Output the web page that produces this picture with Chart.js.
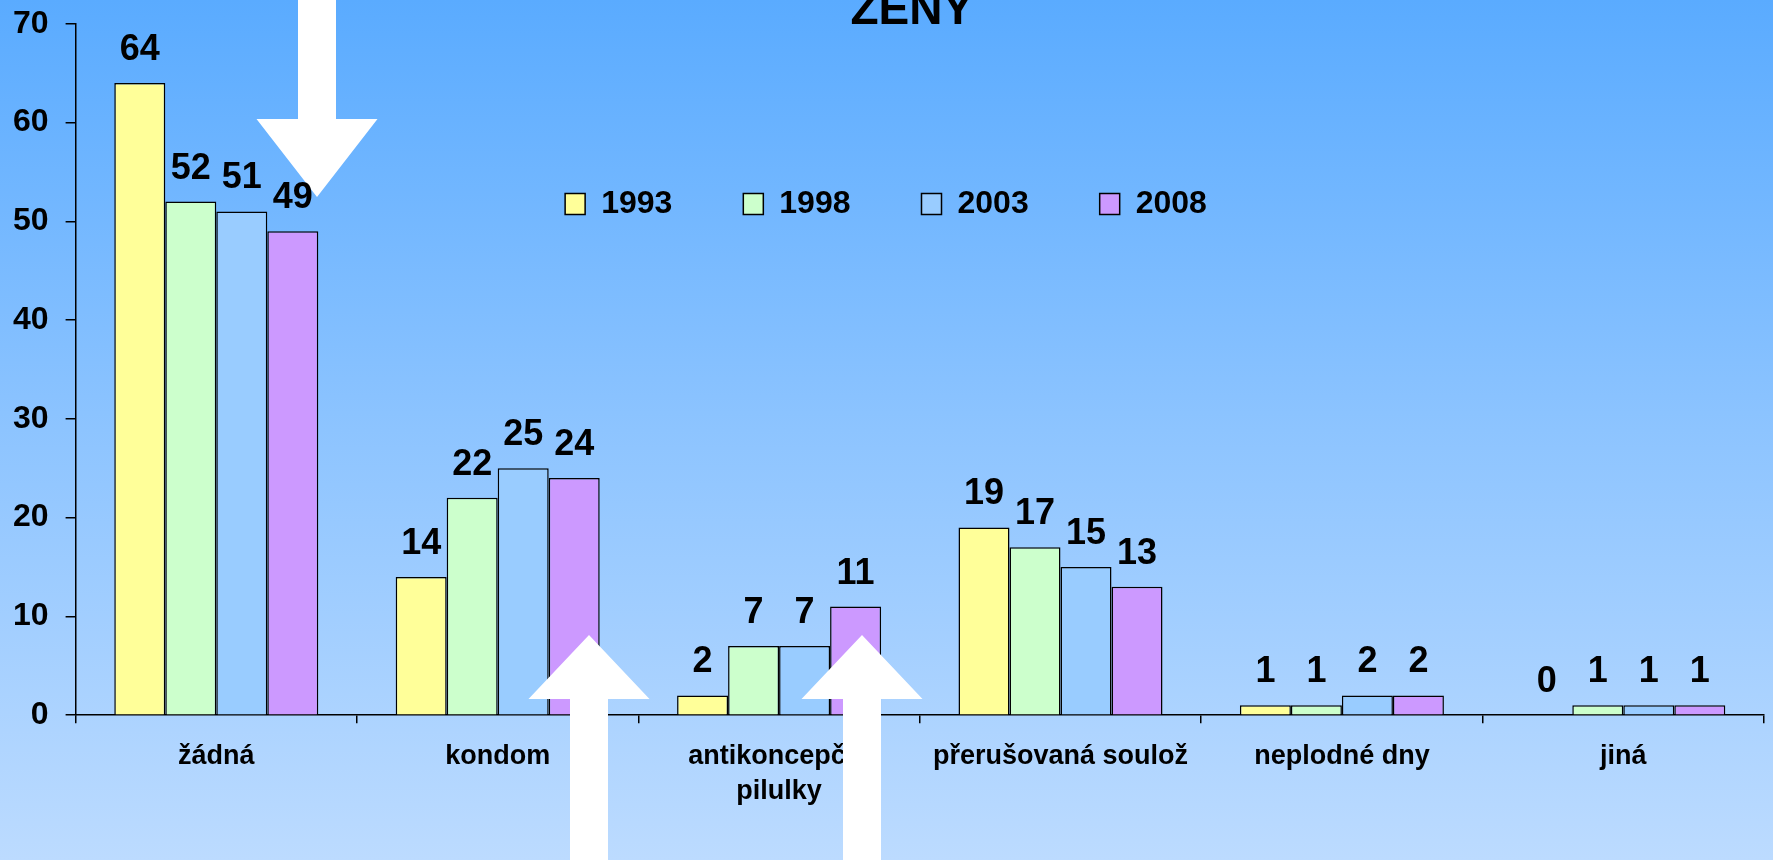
<!DOCTYPE html>
<html>
<head>
<meta charset="utf-8">
<title>ŽENY</title>
<script src="https://cdn.jsdelivr.net/npm/chart.js@4.4.0/dist/chart.umd.min.js"></script>
<style>
  html, body { margin: 0; padding: 0; }
  body {
    width: 1773px; height: 860px; overflow: hidden;
    background: linear-gradient(to bottom, #5aabff 0%, #8dc4ff 50%, #bcdbff 100%);
  }
  #wrap { position: relative; width: 1773px; height: 860px; }
</style>
</head>
<body>
<div id="wrap"><canvas id="chart"></canvas></div>
<script>
// --- data ---
const categories = ['žádná', 'kondom', ['antikoncepční', 'pilulky'], 'přerušovaná soulož', 'neplodné dny', 'jiná'];
const years = ['1993', '1998', '2003', '2008'];
const values1993 = [64, 14, 2, 19, 1, 0];
const values1998 = [52, 22, 7, 17, 1, 1];
const values2003 = [51, 25, 7, 15, 2, 1];
const values2008 = [49, 24, 11, 13, 2, 1];
const yTicks = [0, 10, 20, 30, 40, 50, 60, 70];

const colors = ['#ffff99', '#ccffcc', '#99ccff', '#cc99ff'];
const FONT = '"Liberation Sans", Arial, sans-serif';
Chart.defaults.font.family = FONT;
Chart.defaults.color = '#000';

// white arrows drawn over the chart (pixel geometry)
const arrows = [
  { cx: 317, shaft: 38, head: 121, tip: 197, base: 119, end: 0 },
  { cx: 589, shaft: 38, head: 121, tip: 635, base: 699, end: 860 },
  { cx: 862, shaft: 38, head: 121, tip: 635, base: 699, end: 860 }
];

// arrows go over bars and axis labels, value labels stay on top
const arrowOverlay = {
  id: 'arrowOverlay',
  afterDatasetsDraw(chart) {
    const ctx = chart.ctx;
    ctx.save();
    ctx.fillStyle = '#ffffff';
    arrows.forEach(a => {
      const s = a.shaft / 2, h = a.head / 2;
      ctx.beginPath();
      ctx.moveTo(a.cx - s, a.end);
      ctx.lineTo(a.cx - s, a.base);
      ctx.lineTo(a.cx - h, a.base);
      ctx.lineTo(a.cx, a.tip);
      ctx.lineTo(a.cx + h, a.base);
      ctx.lineTo(a.cx + s, a.base);
      ctx.lineTo(a.cx + s, a.end);
      ctx.closePath();
      ctx.fill();
    });
    ctx.restore();
  }
};

// value labels above bars
const valueLabels = {
  id: 'valueLabels',
  afterDatasetsDraw(chart) {
    const ctx = chart.ctx;
    ctx.save();
    ctx.font = 'bold 36px ' + FONT;
    ctx.fillStyle = '#000';
    ctx.textAlign = 'center';
    ctx.textBaseline = 'alphabetic';
    chart.data.datasets.forEach((ds, i) => {
      chart.getDatasetMeta(i).data.forEach((bar, j) => {
        ctx.fillText(String(ds.data[j]), bar.x, bar.y - 23);
      });
    });
    ctx.restore();
  }
};

// legend takes no room in the layout; put it inside the plot, title a bit left
const placeBlocks = {
  id: 'placeBlocks',
  afterLayout(chart) {
    const lg = chart.legend;
    if (lg) {
      lg.left += 6; lg.right += 6;
      lg.top = 117; lg.bottom = lg.top + 200;
    }
    const tb = chart.titleBlock;
    if (tb) { tb.left -= 8; tb.right -= 8; }
  }
};

const series = [values1993, values1998, values2003, values2008];

new Chart(document.getElementById('chart'), {
  type: 'bar',
  data: {
    labels: categories,
    datasets: years.map((y, i) => ({
      label: y,
      data: series[i],
      backgroundColor: colors[i],
      borderColor: '#000',
      borderWidth: 1.5,
      categoryPercentage: 0.725,
      barPercentage: 1
    }))
  },
  options: {
    responsive: true,
    maintainAspectRatio: false,
    animation: false,
    layout: { padding: { left: -4, right: 9, top: 0, bottom: 35 } },
    plugins: {
      title: {
        display: true,
        text: 'ŽENY',
        fullSize: false,
        color: '#000',
        font: { size: 46, weight: 'bold' },
        padding: { top: -17, bottom: -15 }
      },
      legend: {
        position: 'top',
        align: 'center',
        maxHeight: 0.001,
        labels: {
          boxWidth: 20,
          boxHeight: 21,
          padding: 71,
          color: '#000',
          font: { size: 32, weight: 'bold' }
        }
      },
      tooltip: { enabled: false }
    },
    scales: {
      x: {
        grid: { display: true, drawOnChartArea: false, offset: true, tickLength: 8, color: '#000', lineWidth: 1.5 },
        border: { display: true, color: '#000', width: 1.5 },
        ticks: {
          color: '#000',
          autoSkip: false,
          maxRotation: 0,
          padding: 15,
          font: { size: 27, weight: 'bold', lineHeight: 1.33 }
        }
      },
      y: {
        min: yTicks[0],
        max: yTicks[yTicks.length - 1],
        afterBuildTicks(scale) { scale.ticks = yTicks.map(v => ({ value: v })); },
        grid: { display: true, drawOnChartArea: false, tickLength: 10, color: '#000', lineWidth: 1.5 },
        border: { display: true, color: '#000', width: 1.5 },
        ticks: {
          color: '#000',
          padding: 17,
          font: { size: 32, weight: 'bold', lineHeight: 0.42 }
        }
      }
    }
  },
  plugins: [arrowOverlay, valueLabels, placeBlocks]
});
</script>
</body>
</html>
